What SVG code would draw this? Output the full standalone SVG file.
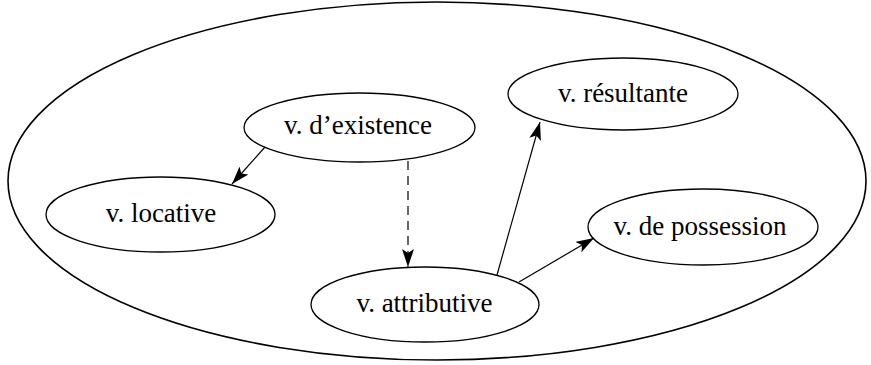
<svg xmlns="http://www.w3.org/2000/svg" width="871" height="365" viewBox="0 0 871 365">
<style>
.n ellipse{fill:#fff;stroke:#000;stroke-width:1.3}
#outer ellipse{stroke-width:1.6;fill:none}
text{font-family:"Liberation Serif","Times New Roman",serif;font-size:27px;fill:#000;text-anchor:middle}
.c line{stroke:#000;stroke-width:1.2;marker-end:url(#ah)}
</style>
<defs>
<marker id="ah" viewBox="0 0 18 12" refX="18" refY="6" markerWidth="18" markerHeight="12" markerUnits="userSpaceOnUse" orient="auto">
<path d="M0,0 L18,6 L0,12 L4,6 Z" fill="#000"/>
</marker>
</defs>
<rect width="871" height="365" fill="#fff"/>
<g id="outer" class="n"><ellipse cx="437" cy="181" rx="429" ry="179"/></g>
<g id="existence" class="n"><ellipse cx="359.5" cy="127.5" rx="115.5" ry="34.5"/><text x="358" y="134">v. d’existence</text></g>
<g id="resultante" class="n"><ellipse cx="623" cy="94" rx="115" ry="36"/><text x="623" y="102">v. résultante</text></g>
<g id="locative" class="n"><ellipse cx="160.5" cy="214.5" rx="114.5" ry="37.5"/><text x="161" y="222">v. locative</text></g>
<g id="possession" class="n"><ellipse cx="703" cy="227" rx="115" ry="38"/><text x="700" y="235">v. de possession</text></g>
<g id="attributive" class="n"><ellipse cx="425" cy="304.5" rx="114" ry="37.5"/><text x="424.5" y="312">v. attributive</text></g>
<g id="connectors" class="c">
<line x1="265" y1="147" x2="232" y2="184"/>
<line x1="408" y1="161" x2="408" y2="267" stroke-dasharray="9,6"/>
<line x1="497" y1="275" x2="540" y2="122"/>
<line x1="519" y1="282" x2="594" y2="238"/>
</g>
</svg>
